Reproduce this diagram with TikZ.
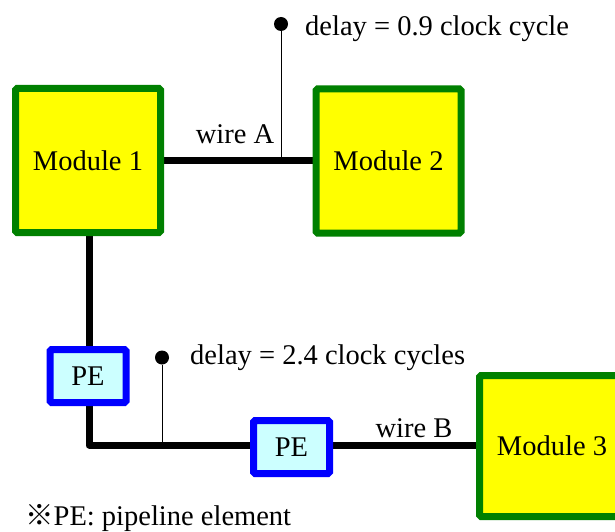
\documentclass[tikz,border=0pt]{standalone}
\usepackage{fontspec}
\setmainfont{Liberation Serif}
\newfontfamily\cjk{Noto Sans CJK JP}
\usetikzlibrary{backgrounds}
\definecolor{modfill}{HTML}{FFFF00}
\definecolor{modedge}{HTML}{008000}
\definecolor{pefill}{HTML}{CCFFFF}
\definecolor{peedge}{HTML}{0000FF}
\tikzset{
  module/.style={draw=modedge, fill=modfill, line width=7pt, rounded corners=1.5pt,
    minimum width=145pt, minimum height=144pt, inner sep=0pt},
  pipe/.style={draw=peedge, fill=pefill, line width=7pt, rounded corners=1.5pt,
    minimum width=76pt, minimum height=53pt, inner sep=0pt},
  wire/.style={line width=7pt, line join=round},
  probe/.style={line width=1pt},
  pin/.style={circle, fill=black, minimum size=14pt, inner sep=0pt},
  lbl/.style={inner sep=0pt}
}
\begin{document}
\begin{tikzpicture}[x=1pt, y=-1pt, font=\fontsize{28.5}{34}\selectfont]
\useasboundingbox (0,0) rectangle (615,532);
\clip (0,0) rectangle (615,532);

% blocks
\node[module] (m1) at (88,160.5) {Module 1};
\node[module] (m2) at (388.5,161) {Module 2};
\node[module, minimum height=141pt] (m3) at (552,446) {Module 3};
\node[pipe] (pe1) at (88,376) {PE};
\node[pipe] (pe2) at (291.5,447) {PE};

% delay probes
\node[pin] (dA) at (281,24) {};
\node[pin] (dB) at (162,357.5) {};
\coordinate (tapA) at (281,160);
\coordinate (tapB) at (162,445);
\coordinate (bend) at (89,445);

\begin{scope}[on background layer]
  \draw[wire] (m1.east |- 0,160) -- (m2.west |- 0,160);
  \draw[wire] (m1.south -| bend) -- (pe1.north -| bend);
  \draw[wire] (pe1.south -| bend) -- (bend) -- (pe2.west |- bend);
  \draw[wire] (pe2.east |- bend) -- (m3.west |- bend);
  \draw[probe] (dA) -- (tapA);
  \draw[probe] (dB) -- (tapB);
\end{scope}

% labels
\node[lbl, anchor=base west] (tA) at (305,36) {delay = 0.9 clock cycle};
\node[lbl, anchor=base west] (tB) at (190,364) {delay = 2.4 clock cycles};
\node[lbl, anchor=base] (wA) at (235,143) {wire A};
\node[lbl, anchor=base] (wB) at (414,437) {wire B};
\node[lbl, anchor=base west] (note) at (25,525) {{\cjk ※}PE: pipeline element};
\end{tikzpicture}
\end{document}
